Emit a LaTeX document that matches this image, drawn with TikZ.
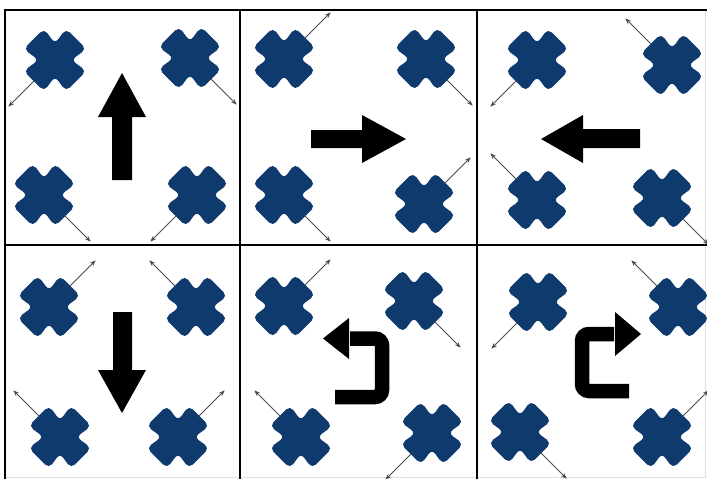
\documentclass[tikz,border=0pt]{standalone}
\usetikzlibrary{calc,arrows.meta}
\definecolor{crossblue}{HTML}{0F3A6E}
\tikzset{
  cross/.pic={\fill[crossblue, rounded corners=5.5pt, rotate=45]
     (30,-14.5) -- (30,14.5) -- (11.5,11.5) -- (14.5,30) -- (-14.5,30) -- (-11.5,11.5)
     -- (-30,14.5) -- (-30,-14.5) -- (-11.5,-11.5) -- (-14.5,-30) -- (14.5,-30) -- (11.5,-11.5) -- cycle;},
  push/.style={draw=black!70, line width=0.9pt, -{Stealth[length=6pt,width=4.5pt]}},
  grid/.style={draw=black, line width=2.8pt},
  bigarrow/.style={fill=black},
  bracket/.style={draw=black, line width=14.5pt, rounded corners=7pt}
}
\begin{document}
\begin{tikzpicture}[x=1pt,y=-1pt]
\useasboundingbox (0,0) rectangle (707,479);
\clip (0,0) rectangle (707,479);
\fill[white] (0,0) rectangle (707,479);
% faint outer edges
\draw[black!12, line width=0.8pt] (705,10) -- (705,477) -- (5,477);
% grid
\coordinate (tl) at (5,10);
\coordinate (tr) at (707,10);
\coordinate (bl) at (5,479);
\coordinate (ml) at (5,245);
\coordinate (mr) at (707,245);
\coordinate (v1t) at (240,10);
\coordinate (v1b) at (240,479);
\coordinate (v2t) at (477,10);
\coordinate (v2b) at (477,479);
\draw[grid] (tr) -- (tl) -- (bl);
\draw[grid] (ml) -- (mr);
\draw[grid] (v1t) -- (v1b);
\draw[grid] (v2t) -- (v2b);
% crosses with arrows
\foreach \n/\x/\y/\a in {
  11/55/60/135, 12/190/58/45, 13/44/195/45, 14/197/195/135,
  21/284/59/315, 22/426/59/45, 23/284/195/45, 24/424/204/315,
  31/537/60/135, 32/672/65/225, 33/537/200/225, 34/662/198/45,
  41/49/307/315, 42/196/307/225, 43/60/437/225, 44/178/437/315,
  51/284/306/315, 52/414/301/45, 53/301/437/225, 54/432/433/135,
  61/538/302/135, 62/678/307/225, 63/520/432/45, 64/662/437/315}{
  \coordinate (c\n) at (\x,\y);
  \pic at (c\n) {cross};
  \draw[push] ($(c\n)+(\a:29)$) -- ($(c\n)+(\a:66)$);
}
% big arrows
\fill[bigarrow] (112,180) -- (132,180) -- (132,117) -- (146,117) -- (122,73) -- (98,117) -- (112,117) -- cycle;
\fill[bigarrow] (311,130) -- (362,130) -- (362,115) -- (406,139) -- (362,163) -- (362,148) -- (311,148) -- cycle;
\fill[bigarrow] (640,129) -- (583,129) -- (583,115) -- (541,139) -- (583,163) -- (583,148) -- (640,148) -- cycle;
\fill[bigarrow] (113,312) -- (132,312) -- (132,370) -- (146,370) -- (122,413) -- (98,370) -- (113,370) -- cycle;
% bracket arrows
\draw[bracket] (335,397) -- (382,397) -- (382,338.5) -- (350,338.5);
\fill[bigarrow] (349,318) -- (349,359) -- (323,338.5) -- cycle;
\draw[bracket] (629,391) -- (582,391) -- (582,334) -- (614,334);
\fill[bigarrow] (615,312) -- (615,356) -- (641,334) -- cycle;
\end{tikzpicture}
\end{document}
